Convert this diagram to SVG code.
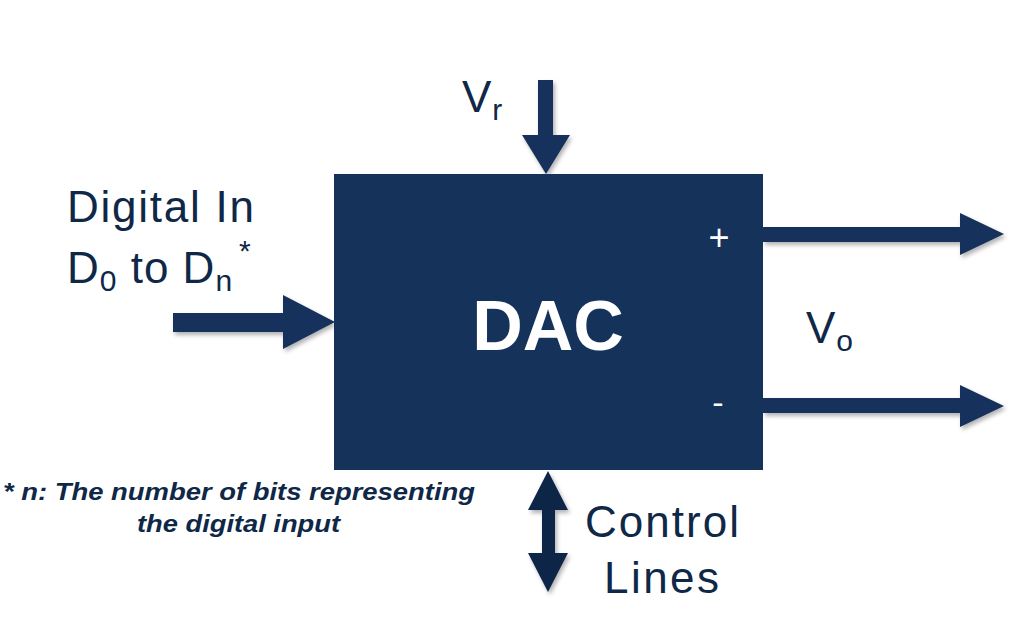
<svg xmlns="http://www.w3.org/2000/svg" width="1024" height="638" viewBox="0 0 1024 638">
<style>
.lbl{font-family:"Liberation Sans",Arial,sans-serif;fill:#0f2847;font-size:44px;letter-spacing:1px}
.sub{font-size:30px}
.wh{font-family:"Liberation Sans",Arial,sans-serif;fill:#ffffff}
.arr{fill:#15325b;filter:url(#sh)}
.note{font-family:"Liberation Sans",Arial,sans-serif;font-weight:bold;font-style:italic;font-size:23px;fill:#0f2847}
</style>
<defs>
<filter id="sh" x="-20%" y="-20%" width="140%" height="160%">
<feDropShadow dx="2" dy="3" stdDeviation="2" flood-color="#000" flood-opacity="0.3"/>
</filter>
</defs>
<rect width="1024" height="638" fill="#ffffff"/>
<g id="connectors">
<polygon class="arr" points="538,80 553,80 553,135 570,135 546,174 522,135 538,135"/>
<polygon class="arr" points="173,313 283,313 283,295 335,322 283,349 283,332 173,332"/>
<polygon class="arr" points="763,227 960,227 960,213 1004,234 960,255 960,242 763,242"/>
<polygon class="arr" points="763,398 960,398 960,385 1004,406 960,427 960,413 763,413"/>
<polygon class="arr" style="fill:#0f2847" points="548,471 568,510 555,510 555,553 568,553 548,592 528,553 542,553 542,510 528,510"/>
</g>
<g id="dac">
<rect x="334" y="174" width="429" height="296" fill="#15325b"/>
<text class="wh" x="548" y="350" font-size="70" font-weight="bold" text-anchor="middle">DAC</text>
<text class="wh" x="719" y="250" font-size="36" text-anchor="middle">+</text>
<text class="wh" x="718" y="414" font-size="34" text-anchor="middle">-</text>
</g>
<g id="vr">
<text class="lbl" x="462" y="112">V<tspan class="sub" dy="8">r</tspan></text>
</g>
<g id="digital-in">
<text class="lbl" x="67" y="222" textLength="188" lengthAdjust="spacing">Digital In</text>
<text class="lbl" x="67" y="283">D<tspan class="sub" dy="8">0</tspan><tspan dy="-8"> to D</tspan><tspan class="sub" dy="8">n</tspan><tspan class="sub" dx="6" dy="-30">*</tspan></text>
</g>
<g id="vo">
<text class="lbl" x="806" y="343">V<tspan class="sub" dy="8">o</tspan></text>
</g>
<g id="control">
<text class="lbl" x="585" y="537" textLength="155" lengthAdjust="spacing">Control</text>
<text class="lbl" x="604" y="593" textLength="116" lengthAdjust="spacing">Lines</text>
</g>
<g id="note">
<text class="note" x="3" y="500" textLength="472" lengthAdjust="spacingAndGlyphs">* n: The number of bits representing</text>
<text class="note" x="137" y="532" textLength="203" lengthAdjust="spacingAndGlyphs">the digital input</text>
</g>
</svg>
